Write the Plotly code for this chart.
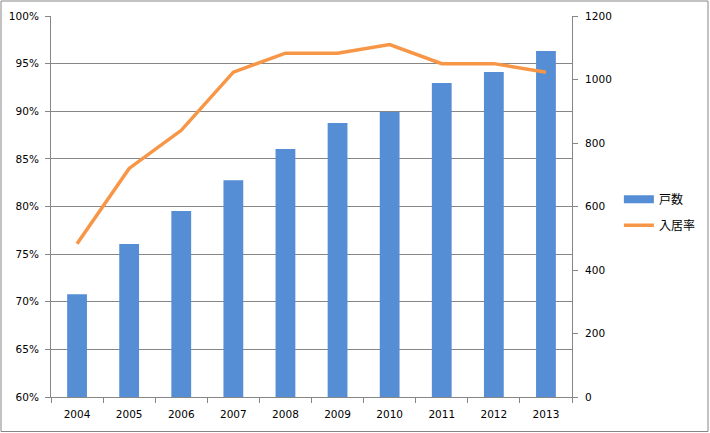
import plotly.graph_objects as go

years = ["2004", "2005", "2006", "2007", "2008", "2009", "2010", "2011", "2012", "2013"]
units = [324, 482, 586, 683, 781, 863, 898, 989, 1024, 1090]          # 戸数
occupancy = [0.761, 0.840, 0.880, 0.941, 0.961, 0.961, 0.970, 0.950, 0.950, 0.941]  # 入居率

pct_ticks = [0.60, 0.65, 0.70, 0.75, 0.80, 0.85, 0.90, 0.95, 1.00]
pct_labels = ["60%", "65%", "70%", "75%", "80%", "85%", "90%", "95%", "100%"]
unit_ticks = [0, 200, 400, 600, 800, 1000, 1200]

axis_gray = "#868686"
bar_color = "#558ED5"
line_color = "#F79646"
tick_font = dict(family="DejaVu Sans", size=10.5, color="#000000")

fig = go.Figure()
fig.add_trace(go.Bar(
    x=years, y=units, name="戸数", yaxis="y", showlegend=False,
    marker=dict(color=bar_color, line=dict(width=0)),
))
# legend entry for bars drawn as a wide flat swatch
fig.add_trace(go.Scatter(
    x=[None], y=[None], name="戸数", mode="lines", yaxis="y",
    line=dict(color=bar_color, width=8), legendgroup="a",
))
fig.add_trace(go.Scatter(
    x=years, y=occupancy, name="入居率", yaxis="y2", mode="lines",
    line=dict(color=line_color, width=3.5), legendgroup="b",
))

fig.update_layout(
    template="none",
    width=710, height=433,
    margin=dict(l=51, r=138, t=16, b=36, autoexpand=False),
    paper_bgcolor="white", plot_bgcolor="white",
    bargap=0.62,
    showlegend=True,
    legend=dict(
        x=1.09, y=0.485, xanchor="left", yanchor="middle",
        font=dict(family="Noto Sans CJK JP", size=12, color="#000000"),
        bgcolor="rgba(0,0,0,0)", tracegroupgap=7, itemwidth=30,
        traceorder="grouped",
    ),
    xaxis=dict(
        type="category", showline=True, linecolor=axis_gray, linewidth=1,
        ticks="outside", ticklen=5, tickcolor=axis_gray, tickson="boundaries",
        showgrid=False, tickfont=tick_font, automargin=False,
        ticklabelstandoff=7,
    ),
    yaxis=dict(
        side="right", range=[0, 1200], tickvals=unit_ticks,
        showline=True, linecolor=axis_gray, linewidth=1,
        ticks="outside", ticklen=5, tickcolor=axis_gray,
        showgrid=False, zeroline=False, tickfont=tick_font, automargin=False,
        ticklabelstandoff=5,
    ),
    yaxis2=dict(
        side="left", overlaying="y", range=[0.60, 1.00],
        tickvals=pct_ticks, ticktext=pct_labels,
        showline=True, linecolor=axis_gray, linewidth=1,
        ticks="outside", ticklen=5, tickcolor=axis_gray,
        showgrid=True, gridcolor=axis_gray, gridwidth=1,
        zeroline=False, tickfont=tick_font, automargin=False,
        ticklabelstandoff=4,
    ),
    shapes=[dict(
        type="rect", xref="paper", yref="paper",
        x0=(1 - 51) / 521, x1=(708 - 51) / 521,
        y0=(397 - 431.5) / 381, y1=(397 - 1) / 381,
        line=dict(color=axis_gray, width=1), fillcolor="rgba(0,0,0,0)",
        layer="below",
    )],
)

fig.write_html(
    "out.html",
    config={"displayModeBar": False},
    post_script="document.body.style.margin='0';document.body.style.overflow='hidden';",
)
